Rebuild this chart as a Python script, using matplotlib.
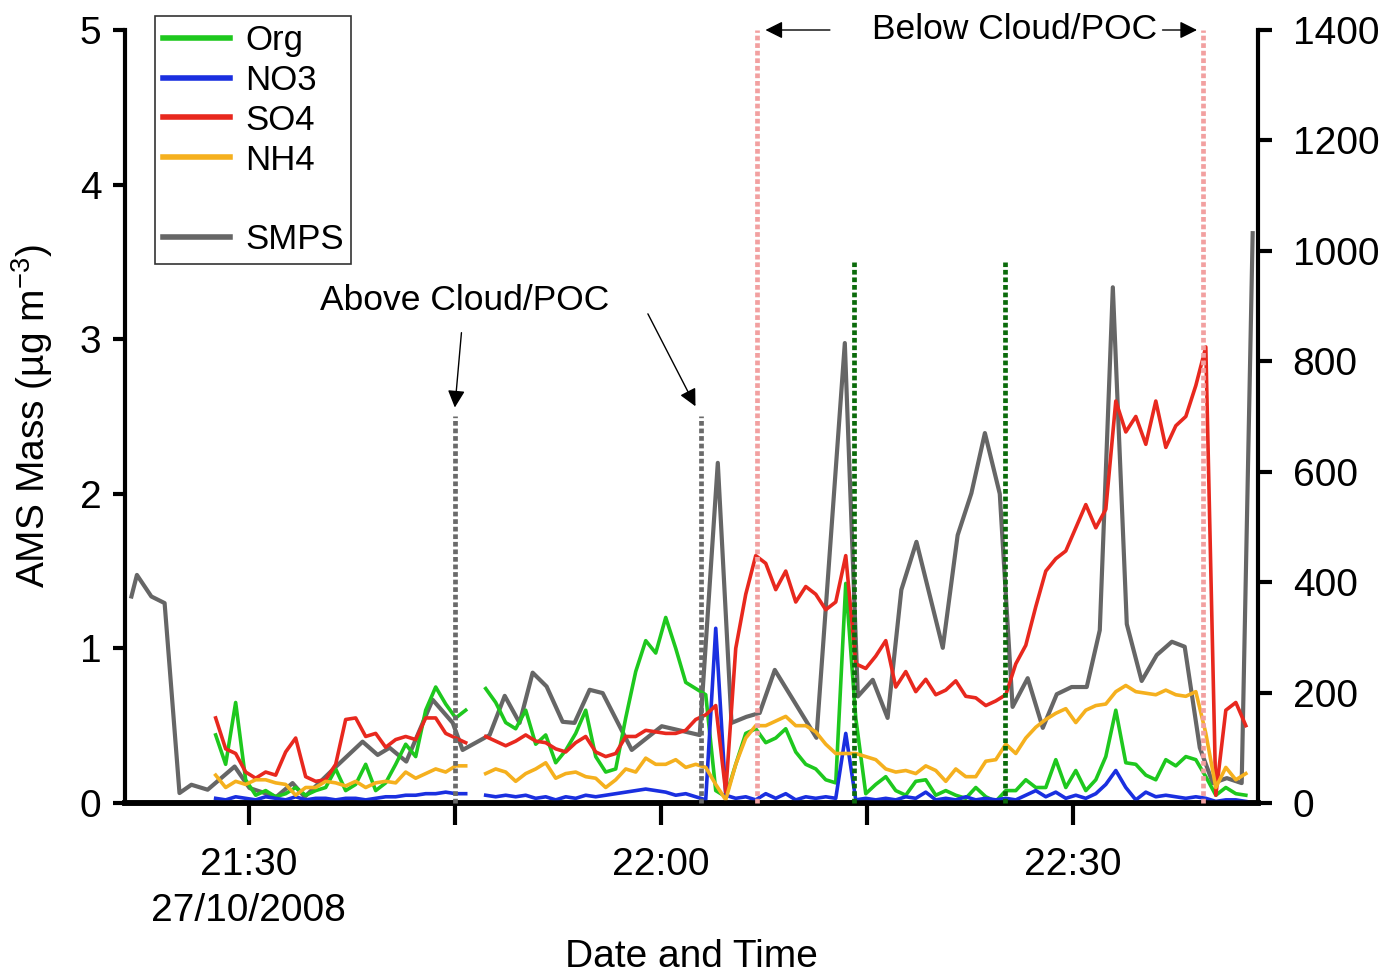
import numpy as np
import pandas as pd
import matplotlib
matplotlib.use("Agg")
import matplotlib.pyplot as plt
import matplotlib.dates as mdates
from matplotlib.lines import Line2D

plt.rcParams['font.family'] = ['Liberation Sans', 'DejaVu Sans']
plt.rcParams['mathtext.default'] = 'regular'

DAY = "2008-10-27 "
nan = np.nan

# ---- AMS composition (ug m-3), regular averaging periods ----
ams_start = DAY + "21:27:36"
ams_period = "43700ms"

org = [0.44, 0.25, 0.65, 0.15, 0.05, 0.08, 0.04, 0.06, 0.10, 0.05,
       0.08, 0.10, 0.22, 0.08, 0.12, 0.25, 0.08, 0.13, 0.25, 0.38,
       0.30, 0.60, 0.75, 0.64, 0.55, 0.60, nan, 0.74, 0.65, 0.52,
       0.48, 0.60, 0.38, 0.44, 0.26, 0.34, 0.45, 0.60, 0.30, 0.20,
       0.22, 0.55, 0.85, 1.05, 0.97, 1.20, 1.00, 0.78, 0.74, 0.70,
       0.08, 0.04, 0.25, 0.45, 0.48, 0.39, 0.42, 0.48, 0.33, 0.25,
       0.22, 0.15, 0.13, 1.42, 0.55, 0.06, 0.12, 0.17, 0.08, 0.05,
       0.14, 0.15, 0.05, 0.08, 0.05, 0.03, 0.10, 0.04, 0.01, 0.08,
       0.08, 0.15, 0.10, 0.10, 0.28, 0.10, 0.21, 0.08, 0.15, 0.30,
       0.60, 0.26, 0.25, 0.18, 0.15, 0.28, 0.24, 0.30, 0.28, 0.17,
       0.05, 0.10, 0.06, 0.05]

no3 = [0.03, 0.02, 0.04, 0.03, 0.02, 0.04, 0.03, 0.02, 0.04, 0.02,
       0.03, 0.03, 0.02, 0.03, 0.03, 0.02, 0.03, 0.04, 0.04, 0.05,
       0.05, 0.06, 0.06, 0.07, 0.06, 0.06, nan, 0.05, 0.04, 0.05,
       0.04, 0.05, 0.03, 0.04, 0.02, 0.04, 0.03, 0.05, 0.04, 0.05,
       0.06, 0.07, 0.08, 0.09, 0.08, 0.07, 0.05, 0.06, 0.04, 0.02,
       1.13, 0.05, 0.03, 0.04, 0.02, 0.06, 0.03, 0.06, 0.02, 0.04,
       0.03, 0.04, 0.03, 0.45, 0.02, 0.03, 0.02, 0.03, 0.02, 0.04,
       0.03, 0.07, 0.02, 0.03, 0.02, 0.04, 0.02, 0.03, 0.02, 0.03,
       0.02, 0.05, 0.08, 0.04, 0.07, 0.03, 0.05, 0.03, 0.06, 0.12,
       0.21, 0.10, 0.02, 0.07, 0.04, 0.05, 0.04, 0.03, 0.04, 0.03,
       0.01, 0.02, 0.02, 0.01]

so4 = [0.55, 0.35, 0.32, 0.20, 0.16, 0.20, 0.18, 0.33, 0.42, 0.17,
       0.14, 0.15, 0.25, 0.54, 0.55, 0.43, 0.45, 0.36, 0.41, 0.43,
       0.41, 0.55, 0.55, 0.45, 0.42, 0.39, nan, 0.43, 0.40, 0.37,
       0.40, 0.44, 0.40, 0.39, 0.35, 0.33, 0.39, 0.43, 0.33, 0.30,
       0.32, 0.43, 0.43, 0.47, 0.46, 0.45, 0.45, 0.47, 0.54, 0.57,
       0.63, 0.07, 1.00, 1.35, 1.60, 1.55, 1.38, 1.50, 1.30, 1.40,
       1.35, 1.25, 1.30, 1.60, 0.90, 0.87, 0.95, 1.05, 0.75, 0.85,
       0.72, 0.80, 0.70, 0.73, 0.79, 0.69, 0.68, 0.63, 0.66, 0.70,
       0.90, 1.02, 1.27, 1.50, 1.58, 1.63, 1.78, 1.93, 1.78, 1.90,
       2.60, 2.40, 2.50, 2.32, 2.60, 2.30, 2.44, 2.50, 2.70, 2.95,
       0.05, 0.60, 0.65, 0.50]

nh4 = [0.18, 0.10, 0.14, 0.12, 0.15, 0.15, 0.13, 0.12, 0.05, 0.10,
       0.10, 0.14, 0.13, 0.11, 0.14, 0.10, 0.13, 0.14, 0.13, 0.20,
       0.16, 0.19, 0.22, 0.20, 0.24, 0.24, nan, 0.19, 0.22, 0.20,
       0.14, 0.19, 0.22, 0.26, 0.16, 0.19, 0.20, 0.17, 0.16, 0.10,
       0.15, 0.22, 0.20, 0.29, 0.25, 0.25, 0.28, 0.23, 0.25, 0.23,
       0.12, 0.02, 0.25, 0.42, 0.50, 0.50, 0.53, 0.56, 0.50, 0.50,
       0.46, 0.38, 0.32, 0.32, 0.32, 0.30, 0.28, 0.22, 0.20, 0.21,
       0.19, 0.24, 0.21, 0.14, 0.22, 0.17, 0.17, 0.27, 0.28, 0.38,
       0.32, 0.42, 0.49, 0.54, 0.58, 0.61, 0.52, 0.60, 0.63, 0.64,
       0.72, 0.76, 0.72, 0.71, 0.70, 0.73, 0.70, 0.69, 0.72, 0.45,
       0.10, 0.23, 0.15, 0.19]

# ---- SMPS total number concentration (cm-3) ----
smps_clock = ["21:21:28", "21:21:52", "21:22:55", "21:23:53", "21:24:58",
              "21:25:50", "21:27:01", "21:28:59", "21:30:04", "21:32:01",
              "21:33:12", "21:34:05", "21:36:07", "21:38:18", "21:39:24",
              "21:40:16", "21:41:29", "21:43:24", "21:44:52", "21:45:35",
              "21:47:33", "21:48:39", "21:49:44", "21:50:41", "21:51:42",
              "21:52:52", "21:53:44", "21:54:50", "21:55:47", "21:57:54",
              "22:00:05", "22:02:51", "22:04:10", "22:05:10", "22:06:15",
              "22:07:13", "22:08:19", "22:11:21", "22:13:25", "22:14:22",
              "22:15:27", "22:16:32", "22:17:32", "22:18:38", "22:20:33",
              "22:21:38", "22:22:38", "22:23:37", "22:24:42", "22:25:38",
              "22:26:44", "22:27:50", "22:28:51", "22:29:56", "22:31:02",
              "22:31:59", "22:32:56", "22:33:57", "22:35:02", "22:36:08",
              "22:37:14", "22:38:10", "22:39:16", "22:40:13", "22:41:14",
              "22:42:19", "22:43:07"]
smps = [374, 413, 374, 362, 18, 33, 24, 66, 27, 11,
        36, 11, 60, 111, 87, 100, 75, 187, 145, 96,
        123, 194, 145, 236, 211, 147, 145, 205, 199, 96,
        139, 123, 616, 145, 156, 163, 241, 118, 833, 193,
        223, 154, 386, 473, 281, 485, 561, 670, 560, 174,
        226, 136, 197, 210, 210, 313, 934, 324, 221, 268,
        292, 283, 100, 36, 45, 36, 1032]

# ---- flight-leg markers: time, top (ug m-3), colour ----
marker_clock = ["21:45:00", "22:02:55", "22:07:00", "22:14:04", "22:25:04", "22:39:29"]
marker_top = [2.5, 2.5, 5.0, 3.5, 3.5, 5.0]
marker_color = ["#6a6a6a", "#6a6a6a", "#f2a0a0", "#0b6b0b", "#0b6b0b", "#f2a0a0"]

x_ticks = ["21:30", "21:45", "22:00", "22:15", "22:30"]
x_tick_labels = ["21:30\n27/10/2008", "", "22:00", "", "22:30"]

species = [("Org", org, "#1ec81e"), ("NO3", no3, "#1a2fe0"),
           ("SO4", so4, "#e8281e"), ("NH4", nh4, "#f5b01e")]

ams_time = pd.date_range(ams_start, periods=len(org), freq=ams_period)
smps_time = pd.to_datetime([DAY + s for s in smps_clock])
marker_time = pd.to_datetime([DAY + s for s in marker_clock])

def T(clock):
    return mdates.date2num(pd.Timestamp(DAY + clock))

FS = 28
fig = plt.figure(figsize=(13.86, 9.74), dpi=100)
ax = fig.add_axes([0.0902, 0.1756, 0.8174, 0.7936])
ax2 = ax.twinx()
ax.set_zorder(ax2.get_zorder() + 1)
ax.patch.set_visible(False)

for name, vals, col in species:
    ax.plot(ams_time, vals, color=col, lw=2.6)

ax2.plot(smps_time, smps, color="#666666", lw=3.0)

for t, top, col in zip(marker_time, marker_top, marker_color):
    ax.plot([t, t], [0, top], color=col, lw=3.4, linestyle=(0, (1, 0.6)),
            clip_on=False, zorder=5)

ax.set_xlim(pd.Timestamp(DAY + "21:21:00"), pd.Timestamp(DAY + "22:43:30"))
ax.set_ylim(0, 5)
ax2.set_ylim(0, 1400)

ax.set_xticks([pd.Timestamp(DAY + c) for c in x_ticks])
ax.set_xticklabels(x_tick_labels)
ax.set_yticks(range(0, 6))
ax2.set_yticks(range(0, 1401, 200))

for a in (ax, ax2):
    a.spines['top'].set_visible(False)
    for s in ('left', 'right'):
        a.spines[s].set_linewidth(3.0)
    a.spines['bottom'].set_linewidth(4.0)
ax.spines['right'].set_visible(False)
ax2.spines['left'].set_visible(False)

ax.tick_params(axis='y', labelsize=FS, width=3, length=9, pad=8)
ax.tick_params(axis='x', labelsize=FS, width=3, length=16, pad=16)
ax2.tick_params(axis='y', labelsize=FS, width=3, length=10, pad=15)
for lab in ax.get_xticklabels():
    lab.set_linespacing(1.36)

ax.set_ylabel("AMS Mass (µg m$^{-3}$)", fontsize=FS, labelpad=18)
ax.set_xlabel("Date and Time", fontsize=FS, labelpad=7)

# annotations
ax.text(T("21:45:44"), 3.25, "Above Cloud/POC", fontsize=25.5, ha='center', va='center')
arrow = dict(arrowstyle='-|>', color='black', lw=1.0, mutation_scale=26)
ax.annotate("", xy=(T("21:45:00"), 2.54), xytext=(T("21:45:31"), 3.06), arrowprops=arrow)
ax.annotate("", xy=(T("22:02:38"), 2.55), xytext=(T("21:58:59"), 3.18), arrowprops=arrow)

ax.text(T("22:25:47"), 5.0, "Below Cloud/POC", fontsize=25.5, ha='center', va='center',
        clip_on=False)
ax.annotate("", xy=(T("22:07:26"), 5.0), xytext=(T("22:12:32"), 5.0),
            arrowprops=arrow, annotation_clip=False)
ax.annotate("", xy=(T("22:39:16"), 5.0), xytext=(T("22:36:21"), 5.0),
            arrowprops=arrow, annotation_clip=False)

handles = [Line2D([], [], color=c, lw=4) for _, _, c in species]
handles.append(Line2D([], [], color='none'))
handles.append(Line2D([], [], color="#666666", lw=4))
labels = [n for n, _, _ in species] + [" ", "SMPS"]
leg = ax.legend(handles, labels, loc='upper left', bbox_to_anchor=(0.0265, 1.018),
                fontsize=25, frameon=True, fancybox=False, edgecolor='black',
                handlelength=1.95, handletextpad=0.42, labelspacing=0.2,
                borderpad=0.22, borderaxespad=0)
leg.get_frame().set_linewidth(1.2)

fig.savefig("out.png", dpi=100)
